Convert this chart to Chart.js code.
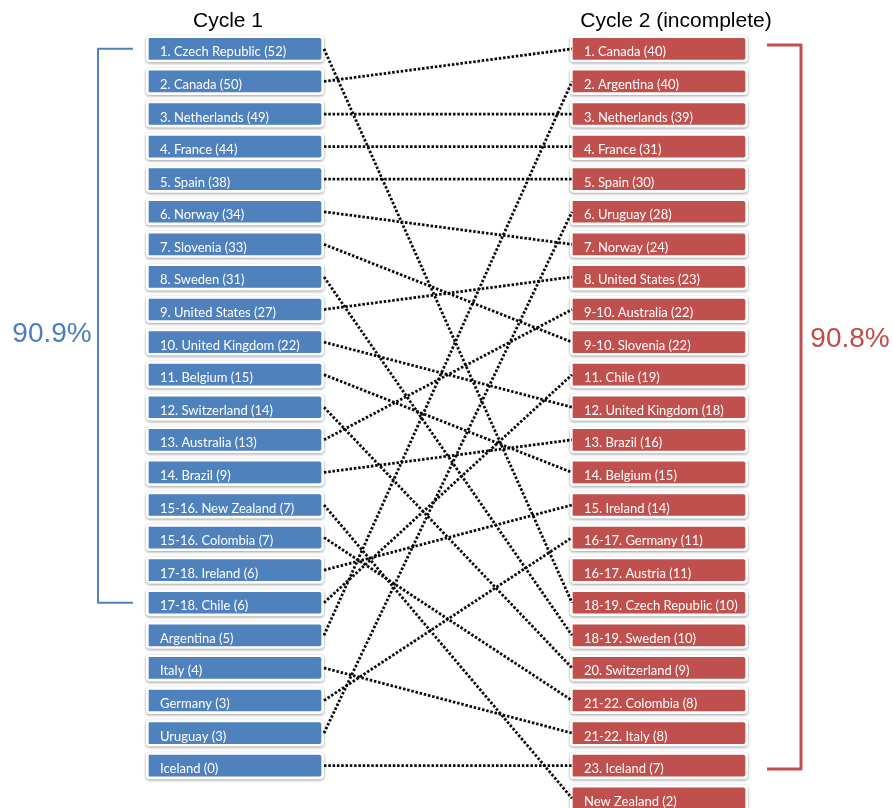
<!DOCTYPE html>
<html>
<head>
<meta charset="utf-8">
<script src="https://cdn.jsdelivr.net/npm/chart.js@4"></script>
<style>
    body { margin: 0; background: #fff; }
    #wrap { width: 893px; height: 808px; position: relative; }
</style>
</head>
<body>
<div id="wrap"><canvas id="chart"></canvas></div>
<script>
// Cycle 1 ranking
const cycle1Ranks = ['1.', '2.', '3.', '4.', '5.', '6.', '7.', '8.', '9.', '10.', '11.', '12.', '13.', '14.',
    '15-16.', '15-16.', '17-18.', '17-18.', '', '', '', '', ''];
const cycle1Countries = ['Czech Republic', 'Canada', 'Netherlands', 'France', 'Spain', 'Norway', 'Slovenia',
    'Sweden', 'United States', 'United Kingdom', 'Belgium', 'Switzerland', 'Australia', 'Brazil',
    'New Zealand', 'Colombia', 'Ireland', 'Chile', 'Argentina', 'Italy', 'Germany', 'Uruguay', 'Iceland'];
const cycle1Counts = [52, 50, 49, 44, 38, 34, 33, 31, 27, 22, 15, 14, 13, 9, 7, 7, 6, 6, 5, 4, 3, 3, 0];

// Cycle 2 ranking (incomplete)
const cycle2Ranks = ['1.', '2.', '3.', '4.', '5.', '6.', '7.', '8.', '9-10.', '9-10.', '11.', '12.', '13.', '14.',
    '15.', '16-17.', '16-17.', '18-19.', '18-19.', '20.', '21-22.', '21-22.', '23.', ''];
const cycle2Countries = ['Canada', 'Argentina', 'Netherlands', 'France', 'Spain', 'Uruguay', 'Norway',
    'United States', 'Australia', 'Slovenia', 'Chile', 'United Kingdom', 'Brazil', 'Belgium', 'Ireland',
    'Germany', 'Austria', 'Czech Republic', 'Sweden', 'Switzerland', 'Colombia', 'Italy', 'Iceland', 'New Zealand'];
const cycle2Counts = [40, 40, 39, 31, 30, 28, 24, 23, 22, 22, 19, 18, 16, 15, 14, 11, 11, 10, 10, 9, 8, 8, 7, 2];

// share covered by the bracketed rows
const cycle1Share = '90.9%';
const cycle2Share = '90.8%';
const cycle1BracketRows = [0, 17];
const cycle2BracketRows = [-0.12, 22.1];

// Layout (x in page units, rows on the y scale)
const BLUE = '#4f81bd';
const RED = '#c0504d';
const leftBox = [149, 321];
const rightBox = [573, 745];
const lineStart = 324;
const lineEnd = 572;

function makeLabel(rank, country, count) {
    return (rank ? rank + ' ' : '') + country + ' (' + count + ')';
}
const cycle1Labels = cycle1Countries.map((c, i) => makeLabel(cycle1Ranks[i], c, cycle1Counts[i]));
const cycle2Labels = cycle2Countries.map((c, i) => makeLabel(cycle2Ranks[i], c, cycle2Counts[i]));

// Dotted connectors between the same country in both cycles
const connectors = [];
cycle1Countries.forEach((country, i) => {
    const j = cycle2Countries.indexOf(country);
    if (j < 0) return;
    connectors.push({
        type: 'line',
        data: [{ x: lineStart, y: i }, { x: lineEnd, y: j }],
        borderColor: '#0a0a0a',
        borderWidth: 2.8,
        borderDash: [2.5, 1.8],
        borderCapStyle: 'butt',
        pointRadius: 0,
        fill: false
    });
});

function bracket(x0, x1, rows, color, width) {
    return {
        type: 'line',
        data: [{ x: x0, y: rows[0] }, { x: x1, y: rows[0] }, { x: x1, y: rows[1] }, { x: x0, y: rows[1] }],
        borderColor: color,
        borderWidth: width,
        borderJoinStyle: 'round',
        pointRadius: 0,
        fill: false
    };
}

// White frame with soft shadow behind each box, then labels on top
const boxPlugin = {
    id: 'boxes',
    beforeDatasetsDraw(chart) {
        const ctx = chart.ctx;
        chart.data.datasets.forEach((ds, d) => {
            if (ds.type !== 'bar') return;
            chart.getDatasetMeta(d).data.forEach(el => {
                const l = Math.min(el.x, el.base) - 3;
                const w = Math.abs(el.x - el.base) + 6;
                const t = el.y - el.height / 2 - 3;
                const h = el.height + 6;
                ctx.save();
                ctx.shadowColor = 'rgba(0,0,0,0.4)';
                ctx.shadowBlur = 3;
                ctx.shadowOffsetY = 1;
                ctx.fillStyle = '#fff';
                ctx.beginPath();
                ctx.roundRect(l, t, w, h, 4);
                ctx.fill();
                ctx.restore();
            });
        });
    },
    afterDatasetsDraw(chart) {
        const ctx = chart.ctx;
        ctx.save();
        ctx.fillStyle = '#fff';
        ctx.font = '13px Lato, "Open Sans", sans-serif';
        ctx.textBaseline = 'alphabetic';
        chart.data.datasets.forEach((ds, d) => {
            if (ds.type !== 'bar') return;
            chart.getDatasetMeta(d).data.forEach((el, i) => {
                const l = Math.min(el.x, el.base);
                ctx.fillText(ds.boxLabels[i], l + 11, el.y + 7.5);
            });
        });
        ctx.restore();

        // column titles and shares
        const xs = chart.scales.x;
        ctx.save();
        ctx.fillStyle = '#000';
        ctx.textAlign = 'center';
        ctx.font = '21px "Liberation Sans", Arial, sans-serif';
        ctx.fillText('Cycle 1', xs.getPixelForValue(228), 27);
        ctx.fillText('Cycle 2 (incomplete)', xs.getPixelForValue(676), 27);
        ctx.font = '28px "Liberation Sans", Arial, sans-serif';
        ctx.fillStyle = '#4a7ebb';
        ctx.fillText(cycle1Share, xs.getPixelForValue(52), 342);
        ctx.fillStyle = '#be4b48';
        ctx.fillText(cycle2Share, xs.getPixelForValue(850), 347);
        ctx.restore();
    }
};

new Chart(document.getElementById('chart'), {
    type: 'bar',
    data: {
        datasets: [
            ...connectors,
            bracket(133, 98, cycle1BracketRows, BLUE, 2),
            bracket(767, 801, cycle2BracketRows, RED, 3),
            {
                type: 'bar',
                indexAxis: 'y',
                data: cycle1Labels.map((_, i) => ({ y: i, x: leftBox })),
                boxLabels: cycle1Labels,
                backgroundColor: BLUE,
                barThickness: 21,
                borderRadius: 2,
                grouped: false
            },
            {
                type: 'bar',
                indexAxis: 'y',
                data: cycle2Labels.map((_, i) => ({ y: i, x: rightBox })),
                boxLabels: cycle2Labels,
                backgroundColor: RED,
                barThickness: 21,
                borderRadius: 2,
                grouped: false
            }
        ]
    },
    options: {
        responsive: true,
        maintainAspectRatio: false,
        animation: false,
        layout: { padding: 0 },
        plugins: { legend: { display: false }, tooltip: { enabled: false } },
        scales: {
            x: { type: 'linear', min: 0, max: 893, offset: false, display: false },
            y: { type: 'linear', min: -1.5, max: 23.3, offset: false, reverse: true, display: false }
        }
    },
    plugins: [boxPlugin]
});
</script>
</body>
</html>
